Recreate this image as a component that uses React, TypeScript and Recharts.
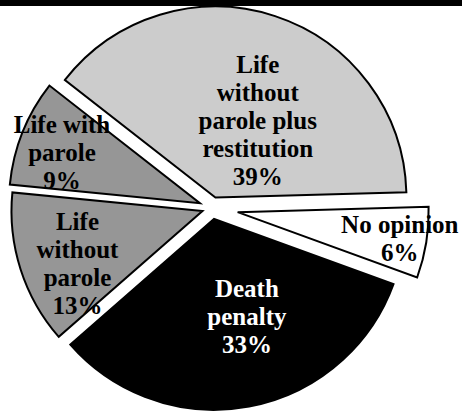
import { PieChart, Pie, Cell } from "recharts";

// slices clockwise from the top-left edge of the big light slice
const categories = [
  "Life\nwithout\nparole plus\nrestitution",
  "No opinion",
  "Death\npenalty",
  "Life\nwithout\nparole",
  "Life with\nparole",
];
const shares = [39, 6, 33, 13, 9];

const fills = ["#cccccc", "#ffffff", "#000000", "#969696", "#969696"];
const textFills = ["#000", "#000", "#fff", "#000", "#000"];

// how far each slice is pulled out, and where its text sits
const explode = [11, 26, 11, 10, 13];
const labelRadius = [0.46, 0.86, 0.54, 0.71, 0.77];
const labelTurn = [-10.6, 0, 8, 5, 1.5];

const W = 462;
const H = 413;
const CX = 212;
const CY = 208;
const R = 191;
const START = 142;
const LINE = 28;

const data = categories.map((name, i) => ({ name, value: shares[i] }));
const total = shares.reduce((a, b) => a + b, 0);

const RAD = Math.PI / 180;
const midAngles = shares.map((v, i) => {
  const before = shares.slice(0, i).reduce((a, b) => a + b, 0);
  return START - ((before + v / 2) / total) * 360;
});

function renderLabel(props: any) {
  const { cx, cy, midAngle, outerRadius, index } = props;
  const d = explode[index];
  const ox = cx + d * Math.cos(midAngle * RAD);
  const oy = cy - d * Math.sin(midAngle * RAD);
  const a = (midAngle + labelTurn[index]) * RAD;
  const r = outerRadius * labelRadius[index];
  const x = ox + r * Math.cos(a);
  const y = oy - r * Math.sin(a);
  const lines = [...categories[index].split("\n"), `${shares[index]}%`];
  const top = y - ((lines.length - 1) * LINE) / 2;
  return (
    <g key={`lbl-${index}`}>
      {lines.map((t, k) => (
        <text
          key={k}
          x={x}
          y={top + k * LINE}
          textAnchor="middle"
          dominantBaseline="central"
          fill={textFills[index]}
          style={{ fontFamily: "'Liberation Serif', 'Times New Roman', serif" }}
          fontWeight="bold"
          fontSize={25}
        >
          {t}
        </text>
      ))}
    </g>
  );
}

export default function App() {
  return (
    <div style={{ position: "absolute", left: 0, top: 0, width: W, height: H, background: "#fff" }}>
      <div style={{ position: "absolute", left: 0, top: 0, width: W, height: 6, background: "#000" }} />
      <PieChart width={W} height={H} margin={{ top: 0, right: 0, bottom: 0, left: 0 }}>
        {data.map((_, i) => (
          <Pie
            key={`slice-${i}`}
            data={data}
            dataKey="value"
            nameKey="name"
            cx={CX + explode[i] * Math.cos(midAngles[i] * RAD)}
            cy={CY - explode[i] * Math.sin(midAngles[i] * RAD)}
            outerRadius={R}
            startAngle={START}
            endAngle={START - 360}
            label={false}
            labelLine={false}
            isAnimationActive={false}
          >
            {data.map((__, j) => (
              <Cell
                key={j}
                fill={j === i ? fills[j] : "none"}
                stroke={j === i ? "#000" : "none"}
                strokeWidth={2}
              />
            ))}
          </Pie>
        ))}
        <Pie
          data={data}
          dataKey="value"
          nameKey="name"
          cx={CX}
          cy={CY}
          outerRadius={R}
          startAngle={START}
          endAngle={START - 360}
          fill="none"
          stroke="none"
          label={renderLabel}
          labelLine={false}
          isAnimationActive={false}
        />
      </PieChart>
    </div>
  );
}
